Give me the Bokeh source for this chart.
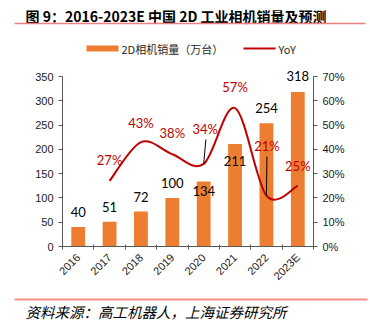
from math import pi
from bokeh.plotting import figure
from bokeh.models import Range1d, LinearAxis, FixedTicker, ColumnDataSource, LabelSet, Plot
from bokeh.layouts import column
from bokeh.core.properties import value
from bokeh.embed import file_html
from bokeh.resources import INLINE

# ---------------- data ----------------
years = ["2016", "2017", "2018", "2019", "2020", "2021", "2022", "2023E"]
sales = [40, 51, 72, 100, 134, 211, 254, 318]          # 万台
yoy_years = ["2017", "2018", "2019", "2020", "2021", "2022", "2023E"]
yoy = [27, 43, 38, 34, 57, 21, 25]                      # %
left_ticks = [0, 50, 100, 150, 200, 250, 300, 350]
right_ticks = [0, 10, 20, 30, 40, 50, 60, 70]
title_text = "图 9：2016-2023E 中国 2D 工业相机销量及预测"
footer_text = "资料来源：高工机器人，上海证券研究所"
legend_labels = ["2D相机销量（万台）", "YoY"]

# ---------------- styles ----------------
BAR_COLOR = "#ED7D31"
LINE_COLOR = "#C00000"
AXIS_COLOR = "#595959"
LABEL_COLOR = "#1a1a1a"
RULE_COLOR = "#F08080"
W = 370
AXIS_W, AXIS_H = 251, 170       # pixel length of the drawn axes
HEADROOM = 12                   # extra frame space above the axes for labels
bar_label_up = [15, 15, 15, 15, -10, -17, 15, 16]        # pixels above bar top
yoy_label_dx = [0, 0, 0, 1.5, 0, 0.5, 0]
yoy_label_up = [21, 19, 21, 35, 21, 50, 20]
leader_idx = [3, 5]
leader_dx_px = [2.2, 0.5]
leader_up_px = [24.4, 39]

has_frame_align = "frame_align" in Plot.properties()

def blank(height):
    f = figure(width=W, height=height, x_range=Range1d(0, W), y_range=Range1d(height, 0),
               output_backend="svg", toolbar_location=None, min_border=0)
    f.axis.visible = False
    f.grid.visible = False
    f.outline_line_color = None
    if has_frame_align:
        f.frame_align = False
    return f

# ---------------- top: title + legend ----------------
TOP_H = 60
top = blank(TOP_H)
top.text(x=[25], y=[15], text=[title_text], text_font=value("Noto Sans CJK SC"),
         text_font_style="bold", text_font_size="14px", text_baseline="middle",
         text_align="left", text_color="#000000")
top.segment(x0=[14], y0=[23], x1=[365], y1=[23], line_color=RULE_COLOR, line_width=1.5)
top.rect(x=[102], y=[48], width=32, height=6, fill_color=BAR_COLOR, line_color=None)
top.segment(x0=[243], y0=[48], x1=[275], y1=[48], line_color=LINE_COLOR, line_width=2)
top.text(x=[121, 278], y=[48, 48], text=legend_labels, text_font=value("Noto Sans CJK SC"),
         text_font_size="11px", text_baseline="middle", text_align="left",
         text_color="#262626")

# ---------------- main chart ----------------
MAIN_H = 230
FRAME_H = AXIS_H + HEADROOM
stretch = FRAME_H / AXIS_H
y_lo, y_hi = left_ticks[0], left_ticks[-1]
r_lo, r_hi = right_ticks[0], right_ticks[-1]
p = figure(width=W, height=MAIN_H, x_range=Range1d(0, len(years)),
           y_range=Range1d(y_lo, y_lo + (y_hi - y_lo) * stretch),
           output_backend="svg", toolbar_location=None,
           min_border_left=62, min_border_right=W - 62 - AXIS_W,
           min_border_top=16 - HEADROOM, min_border_bottom=MAIN_H - 16 - AXIS_H)
if has_frame_align:
    p.frame_align = False
p.extra_y_ranges = {"pct": Range1d(r_lo, r_lo + (r_hi - r_lo) * stretch)}
p.grid.visible = False
p.outline_line_color = None

centers = [i + 0.5 for i in range(len(years))]
bounds = [float(i) for i in range(len(years) + 1)]

bar_src = ColumnDataSource(dict(x=centers, top=sales, label=[str(v) for v in sales],
                                up=bar_label_up))
p.vbar(x="x", top="top", width=0.44, source=bar_src, fill_color=BAR_COLOR, line_color=None)

# smooth YoY line (cubic Bezier segments through the data points)
yx = [years.index(y) + 0.5 for y in yoy_years]
pts = list(zip(yx, yoy))
n = len(pts)
seg = dict(x0=[], y0=[], x1=[], y1=[], cx0=[], cy0=[], cx1=[], cy1=[])
for i in range(n - 1):
    a = pts[i - 1] if i > 0 else pts[i]
    b, c = pts[i], pts[i + 1]
    d = pts[i + 2] if i + 2 < n else pts[i + 1]
    seg["x0"].append(b[0]); seg["y0"].append(b[1])
    seg["x1"].append(c[0]); seg["y1"].append(c[1])
    seg["cx0"].append(b[0] + (c[0] - a[0]) / 6); seg["cy0"].append(b[1] + (c[1] - a[1]) / 6)
    seg["cx1"].append(c[0] - (d[0] - b[0]) / 6); seg["cy1"].append(c[1] - (d[1] - b[1]) / 6)
p.bezier(source=ColumnDataSource(seg), x0="x0", y0="y0", x1="x1", y1="y1",
         cx0="cx0", cy0="cy0", cx1="cx1", cy1="cy1", y_range_name="pct",
         line_color=LINE_COLOR, line_width=2)

# leader lines
px_per_x = AXIS_W / len(years)
px_per_pct = AXIS_H / (r_hi - r_lo)
p.segment(x0=[yx[i] for i in leader_idx], y0=[yoy[i] for i in leader_idx],
          x1=[yx[i] + dx / px_per_x for i, dx in zip(leader_idx, leader_dx_px)],
          y1=[yoy[i] + du / px_per_pct for i, du in zip(leader_idx, leader_up_px)],
          y_range_name="pct", line_color="#000000", line_width=1)

# data labels
p.add_layout(LabelSet(x="x", y="top", text="label", y_offset="up", source=bar_src,
                      text_font=value("Lato"), text_font_size="13px", text_align="center",
                      text_baseline="middle", text_color="#000000"))
yoy_src = ColumnDataSource(dict(x=yx, y=yoy, label=[f"{v}%" for v in yoy],
                                dx=yoy_label_dx, up=yoy_label_up))
p.add_layout(LabelSet(x="x", y="y", text="label", x_offset="dx", y_offset="up", source=yoy_src,
                      y_range_name="pct", text_font=value("Lato"), text_font_size="13px",
                      text_align="center", text_baseline="middle", text_color=LINE_COLOR))

# axes
def style_axis(ax):
    ax.axis_line_color = AXIS_COLOR
    ax.major_tick_line_color = AXIS_COLOR
    ax.minor_tick_line_color = None
    ax.major_label_text_font = "Liberation Sans"
    ax.major_label_text_font_size = "11px"
    ax.major_label_text_color = LABEL_COLOR

xa = p.xaxis[0]
style_axis(xa)
xa.ticker = FixedTicker(ticks=centers, minor_ticks=bounds)
xa.major_label_overrides = {c: y for c, y in zip(centers, years)}
xa.major_tick_line_color = None
xa.major_tick_in = 0
xa.major_tick_out = 0
xa.minor_tick_line_color = AXIS_COLOR
xa.minor_tick_in = 2
xa.minor_tick_out = 3
xa.major_label_orientation = pi / 4
xa.major_label_standoff = 6

ya = p.yaxis[0]
style_axis(ya)
ya.ticker = FixedTicker(ticks=left_ticks)
ya.bounds = (y_lo, y_hi)
ya.major_tick_in = 0
ya.major_tick_out = 4
ya.major_label_standoff = 5

ra = LinearAxis(y_range_name="pct", ticker=FixedTicker(ticks=right_ticks), bounds=(r_lo, r_hi))
style_axis(ra)
ra.major_label_overrides = {t: f"{t}%" for t in right_ticks}
ra.major_tick_in = 0
ra.major_tick_out = 4
ra.major_label_standoff = 5
p.add_layout(ra, "right")

# ---------------- bottom: source note ----------------
BOT_H = 331 - TOP_H - MAIN_H
bot = blank(BOT_H)
bot.segment(x0=[14], y0=[9], x1=[367], y1=[9], line_color="#FF8A8A", line_width=2)
bot.text(x=[25], y=[21], text=[footer_text], text_font=value("Noto Sans CJK SC"),
         text_font_style="italic", text_font_size="14.5px", text_baseline="middle",
         text_align="left", text_color="#000000")

if has_frame_align:
    html = file_html(column(top, p, bot, spacing=0), INLINE)
else:
    html = file_html([top, p, bot], INLINE)
open("out.html", "w").write(html)
